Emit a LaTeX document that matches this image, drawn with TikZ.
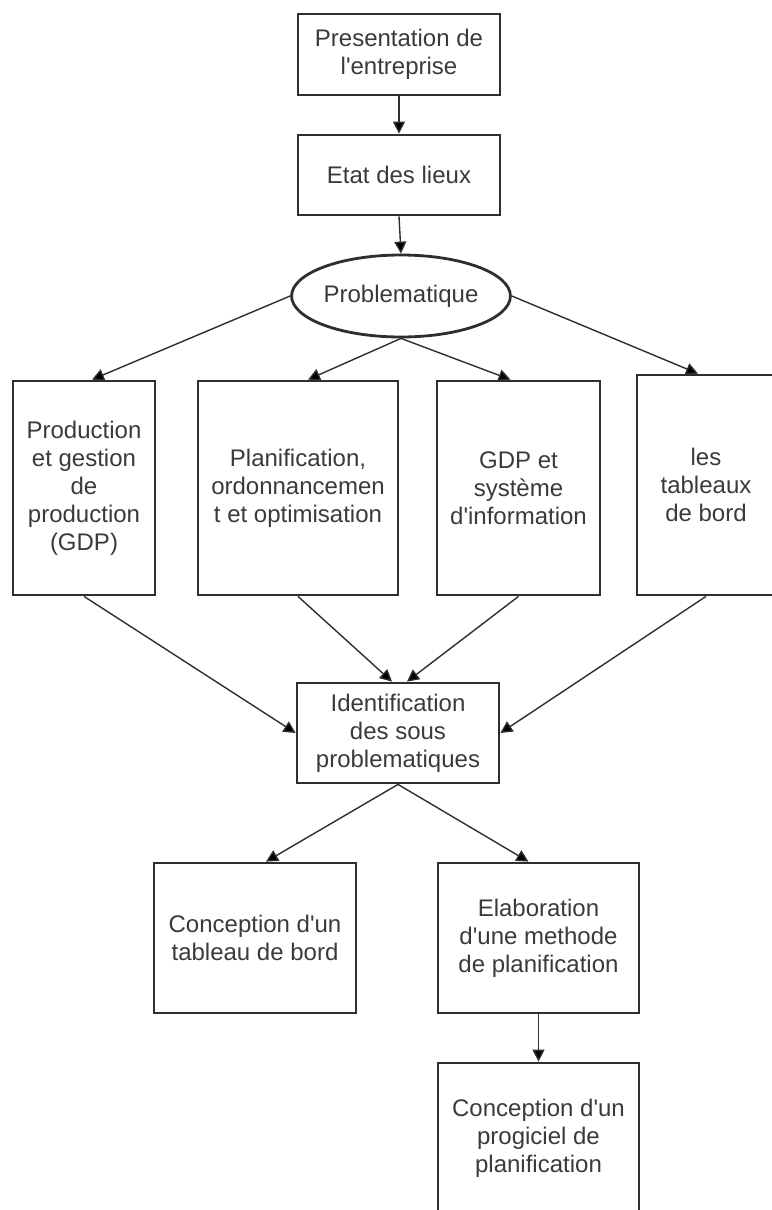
\documentclass[tikz,border=0pt]{standalone}
\usepackage{fontspec}
\setmainfont{Liberation Sans}
\usetikzlibrary{shapes.geometric,arrows.meta}
\definecolor{ink}{HTML}{2E2E2E}
\definecolor{txt}{HTML}{3A3A3A}
\newcommand\apos{\textquotesingle}
\begin{document}
\begin{tikzpicture}[x=1pt,y=-1pt,
  label font/.style={font=\fontsize{24}{28}\selectfont},
  box/.style={draw=ink, line width=2.8pt, rectangle, inner sep=0pt,
    align=center, text=txt, label font},
  oval/.style={draw=ink, line width=2.8pt, ellipse, inner sep=0pt,
    align=center, text=txt, label font},
  link/.style={draw=ink, line width=1.4pt,
    -{Triangle[length=12pt,width=12pt,fill=black]}}]
\useasboundingbox (0,0) rectangle (771,1210);

% top chain
\node[box, minimum width=202pt, minimum height=81pt] (pres) at (399,54.5)
  {Presentation de\\l\apos entreprise};
\node[box, minimum width=202pt, minimum height=80pt] (etat) at (399,175)
  {Etat des lieux};
\node[oval, minimum width=202pt, minimum height=82pt] (prob) at (401,296)
  {Problematique};

% four themes
\node[box, minimum width=142pt, minimum height=214pt] (gdp) at (84,488)
  {Production\\et gestion\\de\\production\\(GDP)};
\node[box, minimum width=200pt, minimum height=214pt] (plan) at (298,488)
  {Planification,\\ordonnancemen\\t et optimisation};
\node[box, minimum width=163pt, minimum height=214pt] (sysi) at (518.5,488)
  {GDP et\\système\\d\apos information};
\node[box, minimum width=138pt, minimum height=220pt] (tdb) at (706,485)
  {les\\tableaux\\de bord};

% synthesis and outcomes
\node[box, minimum width=202pt, minimum height=100pt] (ident) at (398,733)
  {Identification\\des sous\\problematiques};
\node[box, minimum width=202pt, minimum height=150pt] (ctab) at (255,938)
  {Conception d\apos un\\tableau de bord};
\node[box, minimum width=201pt, minimum height=150pt] (elab) at (538.5,938)
  {Elaboration\\d\apos une methode\\de planification};
\node[box, minimum width=201pt, minimum height=150pt] (prog) at (538.5,1138)
  {Conception d\apos un\\progiciel de\\planification};

% connectors
\draw[link] (pres.south) -- (etat.north);
\draw[link] (etat.south) -- (prob.north);
\draw[link] (prob.west) -- ([xshift=8pt]gdp.north);
\draw[link] (prob.south) -- ([xshift=10pt]plan.north);
\draw[link] (prob.south) -- ([xshift=-8pt]sysi.north);
\draw[link] (prob.east) -- ([xshift=-8pt]tdb.north);
\draw[link] (gdp.south) -- (ident.west);
\draw[link] (plan.south) -- ([xshift=-6pt]ident.north);
\draw[link] (sysi.south) -- ([xshift=9pt]ident.north);
\draw[link] (tdb.south) -- (ident.east);
\draw[link] (ident.south) -- ([xshift=11pt]ctab.north);
\draw[link] (ident.south) -- ([xshift=-10pt]elab.north);
\draw[link] (elab.south) -- (prog.north);
\end{tikzpicture}
\end{document}
